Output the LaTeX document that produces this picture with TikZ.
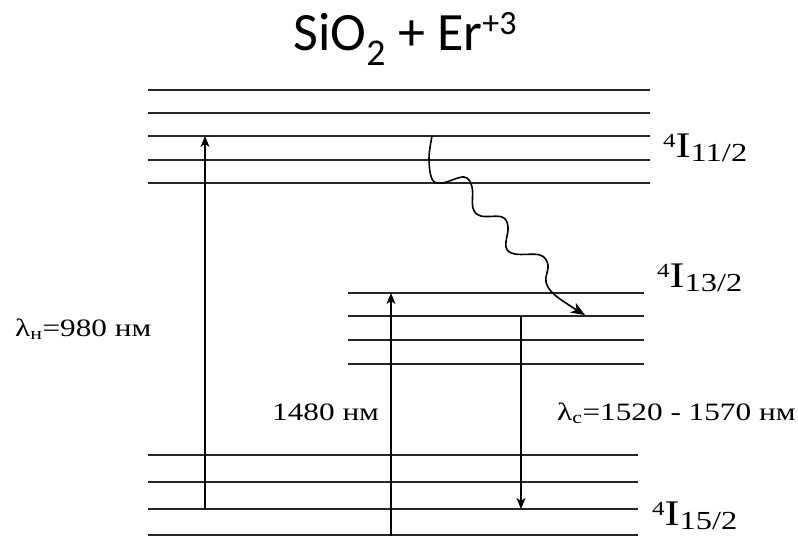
\documentclass[tikz,border=0pt]{standalone}
\usepackage{fontspec}
\setmainfont{Liberation Serif}
\newfontfamily\lblfont[FakeStretch=1.25]{Liberation Serif}
\newfontfamily\titlefont{Carlito}
\usetikzlibrary{arrows.meta,positioning}
% spectroscopic term label
\newcommand{\erterm}[1]{\raisebox{10pt}{\fontsize{20}{20}\selectfont 4}I\raisebox{-4pt}{\fontsize{26}{26}\selectfont #1}}

\begin{document}
\begin{tikzpicture}[x=1pt,y=-1pt,
    level/.style={line width=1.1pt, black!85},
    trans/.style={line width=1.3pt, -{Stealth[length=11pt,width=9pt,inset=3pt]}},
    term/.style={font=\lblfont\fontsize{36}{36}\selectfont, anchor=base west, inner sep=0pt},
    wl/.style={font=\lblfont\fontsize{25}{25}\selectfont, anchor=base west, inner sep=0pt}]
  \useasboundingbox (0,0) rectangle (798,536);
  \node[font=\titlefont\fontsize{54}{54}\selectfont, anchor=base, inner sep=0pt] (title) at (405,50)
    {SiO\textsubscript{2} + Er\raisebox{16pt}{\titlefont\fontsize{34}{34}\selectfont +3}};
  % energy levels
  \foreach \y in {90,113,136,160,183} \draw[level] (148,\y) -- (650,\y);
  \foreach \y in {293,316,340,364} \draw[level] (348,\y) -- (644,\y);
  \foreach \y in {455,482,509,535} \draw[level] (148,\y) -- (638,\y);
  % transitions
  \coordinate (pumpA) at (205,509);
  \coordinate (pumpB) at (205,136);
  \coordinate (pumpC) at (391,536);
  \coordinate (pumpD) at (391,293);
  \coordinate (emA) at (521,316);
  \coordinate (emB) at (521,509);
  \coordinate (relaxA) at (432,136);
  \coordinate (relaxB) at (585,315);
  \draw[trans] (pumpA) -- (pumpB);
  \draw[trans] (pumpC) -- (pumpD);
  \draw[trans] (emA) -- (emB);
  \draw[trans, line width=1.6pt, -{Stealth[length=14pt,width=11pt,inset=4pt]}] plot[smooth, tension=0.6] coordinates {(relaxA) (429,158) (432,179) (442,183) (464,177) (472,187) (473,208) (481,216) (502,217) (508,227) (506,247) (515,254) (540,255) (548,265) (546,282) (556,296) (relaxB)};
  % labels
  \node[term] (t11) at (663,157) {\erterm{11/2}};
  \node[term] (t13) at (657,287) {\erterm{13/2}};
  \node[term] (t15) at (652,525) {\erterm{15/2}};
  \node[wl] (l980) at (15,336) {λ\textsubscript{н}=980 нм};
  \node[wl] (l1480) at (272,420) {1480 нм};
  \node[wl] (lsig) at (557,420) {λ\textsubscript{с}=1520 - 1570 нм};
\end{tikzpicture}
\end{document}
